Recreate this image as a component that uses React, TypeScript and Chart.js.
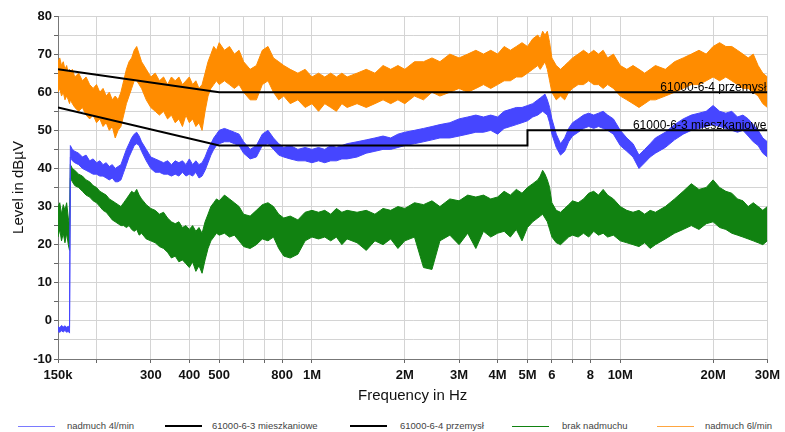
import React, { useEffect, useRef } from 'react';
import { Chart, registerables } from 'chart.js';

Chart.register(...registerables);

const FONT = '"Liberation Sans", Arial, sans-serif';

// Frequency sample points in kHz
const freqKHz = [
  150, 152, 154, 156, 158, 160, 162, 163.5, 164.5, 167,
  170, 175, 180, 185, 190, 195, 200, 205, 210, 215,
  220, 225, 230, 235, 240, 245, 250, 255, 260, 265,
  270, 275, 280, 290, 300, 310, 320, 330, 340, 350,
  360, 370, 380, 390, 400, 410, 420, 430, 440, 450,
  460, 470, 480, 490, 500, 520, 540, 560, 580, 600,
  630, 660, 690, 720, 750, 780, 810, 850, 900, 950,
  1000, 1050, 1100, 1150, 1200, 1250, 1300, 1400, 1500, 1600,
  1700, 1800, 1900, 2000, 2150, 2300, 2450, 2600, 2800, 3000,
  3200, 3400, 3600, 3800, 4000, 4200, 4400, 4600, 4800, 5000,
  5200, 5400, 5500, 5600, 5700, 5800, 5900, 6000, 6200, 6400,
  6600, 6800, 7000, 7300, 7600, 7900, 8200, 8500, 8800, 9100,
  9500, 10000, 10500, 11000, 11500, 12000, 12500, 13000, 14000, 15000,
  16000, 17000, 18000, 19000, 20000, 21000, 22000, 23000, 24000, 25000,
  26000, 27000, 28000, 29000, 30000,
];

// "nadmuch 6l/min" (orange) upper / lower envelope, dBµV
const orangeHi = [
  68, 69, 67, 68, 66, 67, 65, 66, 65, 66,
  64, 65, 63, 64, 62, 61, 62, 60, 61, 59,
  60, 58, 59, 58, 60, 63, 66, 68, 69, 71,
  72, 70, 68, 66, 64, 65, 63, 64, 62, 64,
  63, 64, 62, 63, 64, 62, 63, 61, 62, 65,
  68, 70, 72, 71, 73, 71, 72, 70, 71, 68,
  66, 67, 71, 72, 69, 68, 67, 66, 65, 66,
  64, 65, 64, 65, 64, 65, 64, 65, 66, 65,
  67, 66, 67, 66, 68, 68, 69, 68, 70, 69,
  70, 71, 70, 71, 70, 72, 71, 72, 73, 72,
  74, 75, 74, 76, 75, 76, 73, 69, 67, 66,
  67, 68, 69, 70, 71, 70, 71, 70, 71, 69,
  70, 67, 66, 67, 66, 65, 66, 67, 66, 68,
  69, 70, 71, 70, 72, 73, 72, 72, 71, 70,
  69, 70, 67, 65, 64,
];
const orangeLo = [
  60, 61, 59, 60, 58, 59, 58, 57, 58, 57,
  56, 55, 56, 54, 53, 54, 52, 53, 51, 52,
  50, 51, 48, 50, 51, 54, 57, 59, 61, 63,
  63, 62, 61, 58, 56, 55, 54, 55, 53, 54,
  52, 53, 51, 54, 52, 53, 51, 52, 50, 55,
  59, 61, 62, 63, 62, 63, 62, 61, 62, 60,
  58, 58, 62, 63, 60, 58, 59, 57, 58, 56,
  57, 55, 57, 56, 55, 57, 56, 57, 56, 57,
  58, 57, 58, 57, 59, 58, 60, 59, 60, 61,
  60, 61, 62, 61, 62, 63, 63, 64, 64, 65,
  66, 67, 66, 67, 68, 66, 63, 60, 58, 59,
  58, 60, 61, 62, 62, 63, 62, 62, 61, 62,
  61, 59, 58, 57, 56, 57, 58, 58, 59, 60,
  61, 62, 62, 63, 64, 63, 64, 63, 62, 61,
  61, 60, 59, 57, 56,
];

// "nadmuch 4l/min" (blue)
const blueHi = [
  -1.5, -1.8, -1.2, -1.6, -1.3, -1.7, -1.4, -1.8, 46, 45,
  44.5, 44, 43, 43.5, 42, 42.5, 41.5, 42, 41, 41.5,
  40.5, 41, 40, 40.5, 41, 43, 45, 46.5, 48, 49,
  49.5, 48.5, 47, 45, 43, 42.5, 42, 41.5, 42, 41,
  42, 41.5, 42, 41, 42.5, 41, 42, 41, 41.5, 43,
  45, 46.5, 48, 49, 50, 50.5, 50, 49.5, 49, 47,
  45, 46, 49, 50, 48, 46.5, 45.5, 46, 45, 45.5,
  45, 45.5, 45, 46, 45.5, 46, 46.5, 47, 47.5, 48,
  48.5, 48, 49, 49.5, 50, 50.5, 51, 51.5, 52, 53,
  53.5, 54, 53.5, 54, 53.5, 55, 55.5, 56, 56, 56.5,
  57, 58, 58.5, 59, 59.5, 58, 56, 53, 49, 46.5,
  48, 50.5, 52, 53, 54, 54.5, 54, 54.5, 55, 54,
  53, 50, 48, 46.5, 43.5, 45, 46.5, 48, 49.5, 51.5,
  53, 54, 54.5, 55, 56.5, 55, 54.5, 55, 53.5, 54,
  53, 51.5, 50, 48, 47,
];
const blueLo = [
  -2.8, -3, -2.6, -2.9, -2.5, -3, -2.7, -3.2, 43, 42,
  41.5, 41, 40, 39.5, 39, 38.5, 38.5, 38, 38, 37.5,
  37, 37.5, 36.5, 36.5, 37, 39, 41, 43, 44.5, 46,
  46.5, 46, 44.5, 42, 40, 39, 39, 38.5, 38.5, 38,
  38.5, 38, 39, 38, 38.5, 38, 39, 37.5, 38, 39.5,
  41.5, 43.5, 45, 46, 46.5, 47, 47, 46.5, 46, 44,
  42.5, 43, 46, 46.5, 45, 43.5, 43, 42.5, 42, 42,
  41.5, 42, 41.5, 42, 42, 42.5, 42.5, 43, 44, 44.5,
  45, 45, 45.5, 46, 46.5, 47, 47.5, 48, 48, 48.5,
  49, 49.5, 49.5, 50, 49, 50.5, 51, 51.5, 52, 52.5,
  53.5, 54, 54.5, 55, 54.5, 54, 52, 49, 45.5, 43.5,
  44.5, 47, 48.5, 49.5, 50.5, 51, 50.5, 51, 50.5, 50,
  49, 46, 44.5, 43, 40, 41.5, 43, 44, 45.5, 47.5,
  49, 50, 50.5, 51, 51.5, 51, 50.5, 50, 49.5, 50,
  48.5, 47, 46, 44, 43,
];

// "brak nadmuchu" (green)
const greenHi = [
  30, 31, 28, 30.5, 29, 31, 27, 25, 41, 40,
  39.5, 38.5, 38, 37, 36.5, 35.5, 35, 34, 33.5, 33,
  32, 31.5, 31, 30.5, 30, 31, 32, 33, 34, 33.5,
  34.5, 33, 32, 30.5, 29.5, 29, 28, 28.5, 27, 26,
  25.5, 26, 24.5, 25, 24, 25, 23.5, 24.5, 23, 26,
  28, 30, 31, 32, 31.5, 33, 32, 31, 30, 28,
  27.5, 29, 30.5, 31, 30, 28, 27, 27.5, 26.5, 28.5,
  29, 28.5, 29, 28, 29.5, 28.5, 29, 28.5, 29, 28,
  29.5, 29, 30, 29.5, 31, 30.5, 31.5, 30, 32, 31.5,
  33, 32.5, 33, 32, 32.5, 34, 33, 34.5, 33.5, 35,
  36, 37, 38, 39.5, 38.5, 37, 35, 31, 29, 28.5,
  29.5, 30.5, 31.5, 31, 32, 33.5, 34, 33, 34.5, 33,
  32, 30, 29, 28.5, 29, 28, 29, 28.5, 30, 32,
  34, 36, 34.5, 35, 37, 35, 34, 33.5, 32, 31.5,
  30, 31, 30, 29, 30,
];
const greenLo = [
  22, 24, 21, 23, 20.5, 23, 20, 18.5, 37.5, 36.5,
  35.5, 35, 34, 33, 32.5, 31.5, 31, 30, 29, 28.5,
  27.5, 26.5, 26, 25.5, 25, 25, 24.5, 25, 24, 23.5,
  24, 22.5, 23, 21.5, 21, 20.5, 19.5, 19, 18, 16.5,
  17, 15.5, 16, 15, 14, 15.5, 13, 14.5, 12.5, 16,
  19, 21, 22, 23, 22.5, 23, 22, 22.5, 21, 19.5,
  19, 20, 21.5, 21, 22, 19, 17, 16.5, 17.5, 21,
  22, 21.5, 22, 21, 22, 20, 21.5, 20.5, 18.5, 21,
  20, 21.5, 19, 21, 22, 14, 13.5, 21, 22.5, 20,
  23, 19, 23.5, 22, 23, 23.5, 22, 24, 21, 24.5,
  26, 27, 27.5, 28, 27, 26, 24, 22, 20.5, 20,
  21, 22, 22.5, 22, 23, 22, 23.5, 22.5, 23, 22,
  22.5, 21, 20.5, 20, 19.5, 20.5, 19, 20, 21.5, 23,
  24, 25, 24, 25.5, 26, 24.5, 24, 23, 22.5, 22,
  21.5, 21, 20.5, 20, 21,
];

// Limit lines
const limit63Freq = [150, 500, 5000, 5000, 30000];
const limit63Level = [56, 46, 46, 50, 50];
const limit64Freq = [150, 500, 30000];
const limit64Level = [66, 60, 60];

const xTickValues = [150, 200, 300, 400, 500, 600, 700, 800, 1000, 2000, 3000, 4000, 5000, 6000, 7000, 8000, 10000, 20000, 30000];
const xTickLabels = ['150k', '', '300', '400', '500', '', '', '800', '1M', '2M', '3M', '4M', '5M', '6', '', '8', '10M', '20M', '30M'];

const limitLabelTexts = ['61000-6-4 przemysł', '61000-6-3 mieszkaniowe'];
const limitLabelLevels = [60, 50];

const legendLabels = ['nadmuch 4l/min', '61000-6-3 mieszkaniowe', '61000-6-4 przemysł', 'brak nadmuchu', 'nadmuch 6l/min'];

const BLUE = '#4646ff';
const ORANGE = '#ff8c00';
const GREEN = '#118211';
const BLACK = '#000000';

const legendColors = ['#7a7aff', BLACK, BLACK, GREEN, '#ffa640'];
const legendLayout = [
  { line: 18, text: 67, thick: 1 },
  { line: 165, text: 212, thick: 2 },
  { line: 350, text: 400, thick: 2 },
  { line: 512, text: 562, thick: 1 },
  { line: 657, text: 705, thick: 1 },
];

const limitLabelPlugin = {
  id: 'limitLabels',
  afterDatasetsDraw(chart: any) {
    const { ctx, scales } = chart;
    const x = scales.x;
    const y = scales.y;
    ctx.save();
    ctx.font = `12px ${FONT}`;
    ctx.fillStyle = '#000';
    ctx.textAlign = 'right';
    ctx.textBaseline = 'bottom';
    limitLabelTexts.forEach((t, i) => {
      ctx.fillText(t, x.getPixelForValue(30000) - 1, y.getPixelForValue(limitLabelLevels[i]) + 1);
    });
    ctx.restore();
  },
};

const pts = (xs: number[], ys: number[]) => xs.map((f, i) => ({ x: f, y: ys[i] }));

export default function App() {
  const ref = useRef<HTMLCanvasElement | null>(null);

  useEffect(() => {
    if (!ref.current) return;
    const chart = new Chart(ref.current, {
      type: 'line',
      data: {
        datasets: [
          { label: '61000-6-4 przemysł', data: pts(limit64Freq, limit64Level), borderColor: BLACK, borderWidth: 2, fill: false },
          { label: '61000-6-3 mieszkaniowe', data: pts(limit63Freq, limit63Level), borderColor: BLACK, borderWidth: 2, fill: false },
          { label: 'nadmuch 4l/min', data: pts(freqKHz, blueHi), borderColor: BLUE, borderWidth: 1, fill: false },
          { label: 'nadmuch 4l/min lo', data: pts(freqKHz, blueLo), borderColor: BLUE, backgroundColor: BLUE, borderWidth: 1, fill: '-1' },
          { label: 'nadmuch 6l/min', data: pts(freqKHz, orangeHi), borderColor: ORANGE, borderWidth: 1, fill: false },
          { label: 'nadmuch 6l/min lo', data: pts(freqKHz, orangeLo), borderColor: ORANGE, backgroundColor: ORANGE, borderWidth: 1, fill: '-1' },
          { label: 'brak nadmuchu', data: pts(freqKHz, greenHi), borderColor: GREEN, borderWidth: 1, fill: false },
          { label: 'brak nadmuchu lo', data: pts(freqKHz, greenLo), borderColor: GREEN, backgroundColor: GREEN, borderWidth: 1, fill: '-1' },
        ] as any,
      },
      options: {
        animation: false,
        responsive: true,
        maintainAspectRatio: false,
        layout: { padding: { left: 0, right: 12, top: 16, bottom: 0 } },
        plugins: { legend: { display: false }, tooltip: { enabled: false } },
        elements: { point: { radius: 0 }, line: { tension: 0 } },
        scales: {
          x: {
            type: 'logarithmic',
            min: 150,
            max: 30000,
            afterBuildTicks: (s: any) => {
              s.ticks = xTickValues.map((v) => ({ value: v }));
            },
            afterFit: (s: any) => {
              s.height = 51;
            },
            ticks: {
              autoSkip: false,
              maxRotation: 0,
              minRotation: 0,
              padding: 5,
              color: '#111',
              font: { family: FONT, size: 13, weight: 'bold' },
              callback: (_v: any, i: number) => xTickLabels[i] ?? '',
            },
            grid: { color: '#d4d4d4', tickColor: '#666', tickLength: 4 },
            border: { color: '#777' },
            title: {
              display: true,
              text: 'Frequency in Hz',
              color: '#111',
              font: { family: FONT, size: 15 },
              padding: { top: 0, bottom: 5 },
            },
          },
          y: {
            min: -10,
            max: 80,
            afterFit: (s: any) => {
              s.width = 58;
            },
            ticks: {
              stepSize: 5,
              padding: 2,
              color: '#111',
              font: { family: FONT, size: 13, weight: 'bold' },
              callback: (v: any) => (Number(v) % 10 === 0 ? String(v) : ''),
            },
            grid: { color: '#d4d4d4', tickColor: '#666', tickLength: 4 },
            border: { color: '#777' },
            title: {
              display: true,
              text: 'Level in dBµV',
              color: '#111',
              font: { family: FONT, size: 15 },
              padding: { top: 10, bottom: 0 },
            },
          },
        },
      } as any,
      plugins: [limitLabelPlugin],
    });
    return () => chart.destroy();
  }, []);

  return (
    <div style={{ position: 'fixed', left: 0, top: 0, width: 785, height: 432, background: '#fff', overflow: 'hidden' }}>
      <div style={{ position: 'absolute', left: 0, top: 0, width: 785, height: 410 }}>
        <canvas ref={ref} />
      </div>
      <div style={{ position: 'absolute', left: 0, top: 419, width: 785, height: 14, fontFamily: FONT, fontSize: 9.5, color: '#444' }}>
        {legendLabels.map((label, i) => (
          <React.Fragment key={label}>
            <div
              style={{
                position: 'absolute',
                left: legendLayout[i].line,
                top: 7 - Math.floor(legendLayout[i].thick / 2),
                width: 37,
                height: legendLayout[i].thick,
                background: legendColors[i],
              }}
            />
            <div style={{ position: 'absolute', left: legendLayout[i].text, top: 0, lineHeight: '14px', whiteSpace: 'nowrap' }}>
              {label}
            </div>
          </React.Fragment>
        ))}
      </div>
    </div>
  );
}
